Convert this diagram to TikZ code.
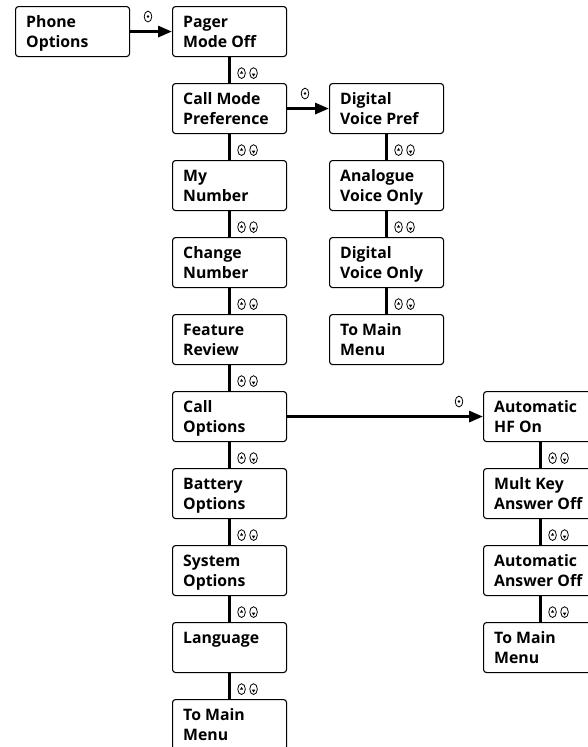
\documentclass[tikz,border=0pt]{standalone}
\usepackage{fontspec}
\setmainfont{Open Sans}
\usetikzlibrary{arrows.meta}
\tikzset{
  box/.style={draw, line width=1.1pt, rounded corners=3pt, minimum width=114pt, minimum height=50pt, inner sep=0pt, anchor=north west},
  lbl/.style={anchor=north west, inner sep=0pt, align=left, font=\bfseries\fontsize{15.8}{20}\selectfont, xshift=11pt, yshift=-7.5pt},
  vlink/.style={line width=3pt},
  hlink/.style={line width=3pt, -{Triangle[length=14pt,width=11pt]}},
  keyoval/.style={line width=0.8pt},
  pics/updown/.style={code={
    \draw[keyoval] (0pt,0pt) ellipse (3.8pt and 5.4pt);
    \fill (-1.7pt,-0.6pt) -- (1.7pt,-0.6pt) -- (0pt,2.2pt) -- cycle;
    \draw[keyoval] (12pt,0pt) ellipse (3.8pt and 5.4pt);
    \fill (10.3pt,-0.6pt) -- (13.7pt,-0.6pt) -- (12pt,-3.4pt) -- cycle;
  }},
  pics/selkey/.style={code={
    \draw[keyoval] (0pt,0pt) ellipse (3.8pt and 5.4pt);
    \fill (0pt,0pt) circle (1.4pt);
  }},
}
\newcommand\menubox[4]{\node[box] (#1) at (#2,#3) {}; \node[lbl] (#1t) at (#1.north west) {\strut #4};}
\newcommand\vconn[2]{\draw[vlink] (#1.south) -- (#2.north); \path (#1.south) ++(12,16) pic {updown};}
\newcommand\hconn[2]{\draw[hlink] (#1.east) -- (#2.west); \path (#2.west) ++(-24,-15) pic {selkey};}
\begin{document}
\begin{tikzpicture}[x=1pt,y=-1pt]
\useasboundingbox (0,0) rectangle (588,747);
\clip (0,0) rectangle (588,747);
% column 0
\menubox{ph}{15}{6}{Phone\\Options}
% column 1
\menubox{a0}{172}{6}{Pager\\Mode Off}
\menubox{a1}{172}{83}{Call Mode\\Preference}
\menubox{a2}{172}{160}{My\\Number}
\menubox{a3}{172}{237}{Change\\Number}
\menubox{a4}{172}{314}{Feature\\Review}
\menubox{a5}{172}{391}{Call\\Options}
\menubox{a6}{172}{468}{Battery\\Options}
\menubox{a7}{172}{545}{System\\Options}
\menubox{a8}{172}{622}{Language}
\menubox{a9}{172}{699}{To Main\\Menu}
% column 2
\menubox{b0}{329}{83}{Digital\\Voice Pref}
\menubox{b1}{329}{160}{Analogue\\Voice Only}
\menubox{b2}{329}{237}{Digital\\Voice Only}
\menubox{b3}{329}{314}{To Main\\Menu}
% column 3
\menubox{c0}{483}{391}{Automatic\\HF On}
\menubox{c1}{483}{468}{Mult Key\\Answer Off}
\menubox{c2}{483}{545}{Automatic\\Answer Off}
\menubox{c3}{483}{622}{To Main\\Menu}
% connectors
\hconn{ph}{a0}
\hconn{a1}{b0}
\hconn{a5}{c0}
\vconn{a0}{a1}\vconn{a1}{a2}\vconn{a2}{a3}\vconn{a3}{a4}\vconn{a4}{a5}
\vconn{a5}{a6}\vconn{a6}{a7}\vconn{a7}{a8}\vconn{a8}{a9}
\vconn{b0}{b1}\vconn{b1}{b2}\vconn{b2}{b3}
\vconn{c0}{c1}\vconn{c1}{c2}\vconn{c2}{c3}
\end{tikzpicture}
\end{document}
